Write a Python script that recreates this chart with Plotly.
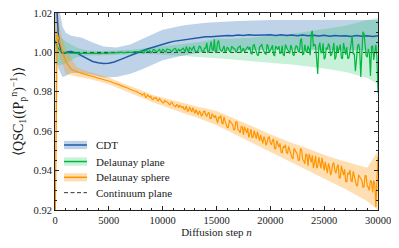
import plotly.graph_objects as go

# ---- data ----
n_noisy = [i * 200 for i in range(151)]          # 0 .. 30000
n_odd = [8100 + 200 * j for j in range(110)]     # extra samples in the noisy part

cdt_n = [0, 100, 200, 300, 400, 500, 600, 800, 1000, 1200, 1500, 1800, 2100, 2500,
         3000, 3500, 4000, 4500, 5000, 5500, 6000, 6500, 7000, 7500, 8000, 8500,
         9000, 9500, 10000, 10500, 11000, 11500, 12000, 12500, 13000, 13500, 14000,
         14500, 15000, 15500, 16000, 16500, 17000, 17500, 18000, 18500, 19000, 19500,
         20000, 20500, 21000, 21500, 22000, 22500, 23000, 23500, 24000, 24500, 25000,
         25500, 26000, 26500, 27000, 27500, 28000, 28500, 29000, 29500, 30000]
cdt_mean = [1.0400, 1.0270, 1.0170, 1.0095, 1.0045, 1.0015, 1.0000, 0.9994, 0.9998, 1.0003,
            1.0004, 1.0001, 0.9995, 0.9982, 0.9966, 0.9954, 0.9947, 0.9944, 0.9945, 0.9951,
            0.9962, 0.9974, 0.9985, 0.9996, 1.0006, 1.0016, 1.0025, 1.0034, 1.0043, 1.0049,
            1.0056, 1.0060, 1.0066, 1.0069, 1.0074, 1.0076, 1.0079, 1.0080,
            1.0083, 1.0084, 1.0086, 1.0085, 1.0088, 1.0086, 1.0089, 1.0087, 1.0089, 1.0088,
            1.0089, 1.0086, 1.0089, 1.0086, 1.0088, 1.0085, 1.0088, 1.0084, 1.0087, 1.0083,
            1.0087, 1.0082, 1.0086, 1.0083, 1.0085, 1.0081, 1.0086, 1.0082, 1.0085, 1.0081,
            1.0084]
cdt_band_n = [0, 300, 700, 1000, 1500, 2500, 3500, 4500, 5700, 7000, 8000, 9000,
              10000, 12000, 14000, 17000, 20000, 25000, 30000]
cdt_upper = [1.045, 1.025, 1.013, 1.010, 1.0085, 1.0075, 1.0050, 1.0030, 1.0025,
             1.0040, 1.0065, 1.0090, 1.0115, 1.0138, 1.0150, 1.0160, 1.0164, 1.0165, 1.0165]
cdt_lower = [1.000, 0.9920, 0.9875, 0.9880, 0.9895, 0.9895, 0.9885, 0.9872, 0.9875,
             0.9892, 0.9912, 0.9935, 0.9960, 0.9985, 1.0003, 1.0010, 1.0013, 1.0012, 1.0010]

plane_mean = [
    1.0060, 1.0030, 1.0013, 1.0005, 1.0000, 0.9997, 0.9996, 0.9995, 0.9996, 0.9995,
    0.9995, 0.9996, 0.9994, 0.9995, 0.9995, 0.9994, 0.9995, 0.9996, 0.9995, 0.9995,
    0.9996, 0.9994, 0.9997, 0.9996, 0.9994, 0.9998, 0.9999, 0.9997, 0.9997, 1.0000,
    0.9999, 1.0001, 0.9998, 1.0001, 1.0002, 1.0000, 1.0000, 1.0004, 1.0003, 1.0002,
    1.0004, 0.9997, 1.0012, 1.0004, 1.0010, 1.0000, 1.0015, 1.0005, 1.0010, 1.0002,
    1.0015, 1.0004, 1.0017, 1.0012, 1.0003, 1.0016, 1.0020, 1.0010, 1.0007, 1.0018,
    1.0013, 1.0030, 1.0000, 1.0021, 1.0027, 1.0008, 1.0002, 1.0032, 1.0018, 1.0006,
    1.0022, 1.0000, 1.0029, 1.0013, 1.0066, 1.0003, 1.0060, 1.0010, 1.0019, 1.0002,
    1.0027, 1.0005, 1.0029, 1.0019, 1.0000, 1.0024, 1.0032, 1.0011, 1.0003, 1.0026,
    1.0014, 0.9994, 1.0036, 1.0020, 0.9986, 1.0028, 1.0042, 1.0005, 0.9991, 1.0030,
    1.0009, 1.0037, 0.9984, 1.0020, 1.0032, 0.9998, 0.9987, 1.0040, 1.0015, 0.9995,
    1.0022, 0.9983, 1.0033, 1.0005, 1.0062, 0.9989, 1.0039, 0.9999, 1.0016, 1.0095,
    1.0030, 1.0033, 0.9890, 1.0050, 0.9999, 0.9966, 1.0024, 1.0045, 0.9982, 1.0010,
    0.9964, 1.0035, 1.0019, 0.9972, 1.0048, 0.9989, 0.9968, 1.0027, 1.0085, 0.9993,
    0.9963, 1.0043, 0.9875, 1.0105, 1.0047, 0.9976, 0.9996, 1.0030, 0.9962, 1.0038,
    0.9795]
plane_odd = [
    1.0009, 0.9999, 1.0013, 1.0004, 0.9999, 1.0012, 1.0010, 1.0003, 1.0017, 1.0005,
    1.0012, 1.0003, 1.0016, 1.0012, 1.0007, 1.0018, 1.0004, 1.0016, 1.0012, 1.0021,
    1.0003, 1.0019, 1.0026, 1.0010, 1.0032, 1.0005, 1.0014, 1.0029, 1.0002, 1.0022,
    1.0048, 1.0003, 1.0055, 1.0011, 1.0000, 1.0052, 1.0019, 1.0005, 1.0032, 1.0008,
    1.0021, 1.0002, 1.0027, 1.0018, 1.0006, 1.0029, 1.0000, 1.0022, 1.0013, 1.0030,
    1.0028, 0.9992, 1.0039, 1.0006, 0.9986, 1.0031, 1.0019, 0.9994, 1.0042, 0.9999,
    1.0020, 0.9987, 1.0032, 1.0015, 0.9995, 1.0034, 0.9984, 1.0023, 1.0006, 1.0037,
    0.9989, 1.0017, 1.0028, 1.0000, 1.0070, 0.9991, 1.0008, 1.0033, 0.9986, 1.0110,
    1.0042, 0.9966, 1.0025, 0.9999, 1.0046, 0.9974, 1.0016, 1.0033, 0.9991, 1.0049,
    0.9977, 1.0002, 1.0040, 0.9968, 1.0023, 1.0027, 0.9972, 1.0044, 0.9993, 0.9905,
    1.0030, 1.0013, 0.9976, 1.0095, 0.9984, 1.0018, 0.9880, 1.0034, 1.0009, 0.9979]

sphere_mean = [
    0.9000, 1.0095, 1.0060, 1.0015, 0.9985, 0.9955, 0.9935, 0.9921, 0.9912, 0.9906,
    0.9901, 0.9898, 0.9895, 0.9892, 0.9889, 0.9886, 0.9883, 0.9880, 0.9877, 0.9874,
    0.9871, 0.9868, 0.9864, 0.9861, 0.9858, 0.9855, 0.9851, 0.9846, 0.9843, 0.9838,
    0.9835, 0.9830, 0.9827, 0.9821, 0.9818, 0.9812, 0.9809, 0.9803, 0.9800, 0.9793,
    0.9790, 0.9789, 0.9773, 0.9785, 0.9772, 0.9762, 0.9770, 0.9770, 0.9755, 0.9757,
    0.9745, 0.9755, 0.9748, 0.9736, 0.9747, 0.9732, 0.9724, 0.9732, 0.9731, 0.9719,
    0.9710, 0.9728, 0.9703, 0.9710, 0.9719, 0.9690, 0.9694, 0.9703, 0.9676, 0.9700,
    0.9683, 0.9690, 0.9664, 0.9689, 0.9668, 0.9653, 0.9673, 0.9680, 0.9638, 0.9651,
    0.9618, 0.9656, 0.9641, 0.9608, 0.9648, 0.9608, 0.9591, 0.9621, 0.9623, 0.9591,
    0.9568, 0.9611, 0.9571, 0.9583, 0.9598, 0.9551, 0.9558, 0.9573, 0.9528, 0.9568,
    0.9541, 0.9553, 0.9511, 0.9553, 0.9518, 0.9493, 0.9523, 0.9531, 0.9488, 0.9501,
    0.9468, 0.9513, 0.9494, 0.9451, 0.9510, 0.9456, 0.9434, 0.9479, 0.9485, 0.9442,
    0.9413, 0.9475, 0.9421, 0.9441, 0.9465, 0.9401, 0.9414, 0.9437, 0.9377, 0.9435,
    0.9399, 0.9419, 0.9362, 0.9424, 0.9377, 0.9345, 0.9390, 0.9403, 0.9345, 0.9366,
    0.9323, 0.9378, 0.9359, 0.9316, 0.9375, 0.9321, 0.9299, 0.9343, 0.9350, 0.9215,
    0.9470]
sphere_odd = [
    0.9783, 0.9791, 0.9773, 0.9778, 0.9778, 0.9761, 0.9767, 0.9757, 0.9765, 0.9752,
    0.9744, 0.9752, 0.9745, 0.9735, 0.9745, 0.9730, 0.9735, 0.9719, 0.9726, 0.9726,
    0.9713, 0.9701, 0.9723, 0.9698, 0.9708, 0.9709, 0.9683, 0.9695, 0.9684, 0.9702,
    0.9677, 0.9695, 0.9665, 0.9678, 0.9681, 0.9641, 0.9666, 0.9641, 0.9673, 0.9638,
    0.9618, 0.9648, 0.9633, 0.9608, 0.9646, 0.9603, 0.9626, 0.9581, 0.9611, 0.9616,
    0.9586, 0.9566, 0.9603, 0.9561, 0.9578, 0.9581, 0.9538, 0.9558, 0.9541, 0.9571,
    0.9531, 0.9561, 0.9511, 0.9533, 0.9538, 0.9491, 0.9516, 0.9491, 0.9523, 0.9488,
    0.9459, 0.9504, 0.9485, 0.9453, 0.9508, 0.9451, 0.9485, 0.9424, 0.9469, 0.9478,
    0.9439, 0.9413, 0.9468, 0.9411, 0.9438, 0.9444, 0.9387, 0.9418, 0.9396, 0.9440,
    0.9387, 0.9431, 0.9364, 0.9398, 0.9407, 0.9343, 0.9381, 0.9348, 0.9396, 0.9350,
    0.9324, 0.9369, 0.9350, 0.9318, 0.9373, 0.9316, 0.9350, 0.9289, 0.9334, 0.9343]

plane_band_n = [0, 500] + [i * 1000 for i in range(1, 31)]
plane_lower = [0.9940, 0.9935, 0.9945, 0.9975, 0.9983, 0.9985, 0.9985, 0.9986, 0.9988, 0.9990,
               0.9990, 0.9988, 0.9985, 0.9982, 0.9978, 0.9975, 0.9970, 0.9966, 0.9962, 0.9958,
               0.9953, 0.9948, 0.9943, 0.9938, 0.9932, 0.9925, 0.9918, 0.9910, 0.9900, 0.9885,
               0.9870, 0.9840]
plane_upper = [1.0120, 1.0080, 1.0055, 1.0025, 1.0010, 1.0007, 1.0008, 1.0010, 1.0013, 1.0018,
               1.0024, 1.0030, 1.0037, 1.0043, 1.0050, 1.0058, 1.0070, 1.0068, 1.0070, 1.0075,
               1.0080, 1.0084, 1.0090, 1.0095, 1.0102, 1.0110, 1.0118, 1.0125, 1.0135, 1.0150,
               1.0165, 1.0175]
sphere_band_n = [0, 150, 400, 700] + [i * 1000 for i in range(1, 31)]
sphere_lower = [0.9000, 1.0000, 0.9985, 0.9935, 0.9890, 0.9878, 0.9868, 0.9853, 0.9838, 0.9815,
                0.9795, 0.9771, 0.9748, 0.9728, 0.9710, 0.9690, 0.9673, 0.9652, 0.9630, 0.9603,
                0.9575, 0.9548, 0.9522, 0.9495, 0.9468, 0.9440, 0.9412, 0.9385, 0.9358, 0.9332,
                0.9305, 0.9275, 0.9245, 0.9200]
sphere_upper = [1.0300, 1.0200, 1.0135, 1.0065, 1.0020, 0.9924, 0.9904, 0.9888, 0.9873, 0.9850,
                0.9830, 0.9808, 0.9785, 0.9770, 0.9755, 0.9742, 0.9728, 0.9715, 0.9702, 0.9680,
                0.9655, 0.9632, 0.9608, 0.9585, 0.9562, 0.9540, 0.9522, 0.9500, 0.9480, 0.9462,
                0.9445, 0.9430, 0.9415, 0.9500]

continuum_n = [0, 30000]
continuum = [1.0, 1.0]

x_ticks = [0, 5000, 10000, 15000, 20000, 25000, 30000]
y_ticks = [0.92, 0.94, 0.96, 0.98, 1.00, 1.02]

series = [
    ("CDT", "#1f5aa8", "rgba(70,130,190,0.35)"),
    ("Delaunay plane", "#00b83c", "rgba(0,190,80,0.22)"),
    ("Delaunay sphere", "#ff9500", "rgba(255,150,0,0.30)"),
]
dash_col = "#333333"
ink = "#222222"
font_name = "Liberation Serif"


def merged(xa, ya, xb, yb):
    pts = sorted(zip(xa + xb, ya + yb))
    return [p[0] for p in pts], [p[1] for p in pts]


plane_x, plane_y = merged(n_noisy, plane_mean, n_odd, plane_odd)
sphere_x, sphere_y = merged(n_noisy, sphere_mean, n_odd, sphere_odd)

fig = go.Figure()

# shaded error bands
bands = [(cdt_band_n, cdt_lower, cdt_upper), (plane_band_n, plane_lower, plane_upper),
         (sphere_band_n, sphere_lower, sphere_upper)]
for (bx, lo, hi), (name, col, fcol) in zip(bands, series):
    fig.add_trace(go.Scatter(x=bx, y=lo, mode="lines", line=dict(width=0, color=fcol),
                             showlegend=False, hoverinfo="skip"))
    fig.add_trace(go.Scatter(x=bx, y=hi, mode="lines", line=dict(width=0, color=fcol),
                             fill="tonexty", fillcolor=fcol, showlegend=False, hoverinfo="skip"))

# continuum reference
fig.add_trace(go.Scatter(x=continuum_n, y=continuum, mode="lines",
                         line=dict(color=dash_col, width=1, dash="4px,3px"), showlegend=False))

# mean lines
fig.add_trace(go.Scatter(x=cdt_n, y=cdt_mean, mode="lines",
                         line=dict(color=series[0][1], width=1.5), showlegend=False))
fig.add_trace(go.Scatter(x=plane_x, y=plane_y, mode="lines",
                         line=dict(color=series[1][1], width=1.2), showlegend=False))
fig.add_trace(go.Scatter(x=sphere_x, y=sphere_y, mode="lines",
                         line=dict(color=series[2][1], width=1.2), showlegend=False))

# legend, drawn by hand so the row spacing matches the reference
legend_rows = [0.330, 0.246, 0.166, 0.088]
sw_x0, sw_x1, txt_x = 0.028, 0.099, 0.120
for yr, (name, col, fcol) in zip(legend_rows, series):
    fig.add_shape(type="rect", xref="paper", yref="paper", x0=sw_x0, x1=sw_x1,
                  y0=yr - 0.021, y1=yr + 0.021, fillcolor=fcol, line=dict(width=0))
    fig.add_shape(type="line", xref="paper", yref="paper", x0=sw_x0, x1=sw_x1,
                  y0=yr, y1=yr, line=dict(color=col, width=1.5))
    fig.add_annotation(xref="paper", yref="paper", x=txt_x, y=yr, text=name,
                       showarrow=False, xanchor="left", yanchor="middle",
                       font=dict(family=font_name, size=11, color=ink))
fig.add_shape(type="line", xref="paper", yref="paper", x0=sw_x0, x1=sw_x1,
              y0=legend_rows[3], y1=legend_rows[3],
              line=dict(color=dash_col, width=1, dash="4px,2.5px"))
fig.add_annotation(xref="paper", yref="paper", x=txt_x, y=legend_rows[3],
                   text="Continuum plane", showarrow=False, xanchor="left", yanchor="middle",
                   font=dict(family=font_name, size=11, color=ink))

axis_common = dict(
    showline=True, linecolor=ink, linewidth=1, mirror="allticks",
    ticks="inside", ticklen=4, tickcolor=ink, showgrid=False, zeroline=False,
    automargin=False, ticklabeloverflow="allow",
    tickfont=dict(family=font_name, size=10.5, color=ink),
)
fig.update_xaxes(range=[0, 30000], tickvals=x_ticks, ticktext=[str(v) for v in x_ticks],
                 minor=dict(dtick=1000, ticks="inside", ticklen=2, tickcolor=ink),
                 title=dict(text="Diffusion step <i>n</i>", standoff=2,
                            font=dict(family=font_name, size=11, color=ink)),
                 **axis_common)
fig.update_yaxes(range=[0.92, 1.02], tickvals=y_ticks, ticktext=[f"{v:.2f}" for v in y_ticks],
                 minor=dict(dtick=0.005, ticks="inside", ticklen=2, tickcolor=ink),
                 title=dict(text="⟨QSC<sub>1</sub>((P<sub>p</sub><sup>n</sup>)<sup>−1</sup>)⟩",
                            standoff=6,
                            font=dict(family=font_name, size=14, color=ink)),
                 **axis_common)

# the page body adds an 8px offset, so margins are trimmed on the left/top
fig.update_layout(
    width=399, height=248,
    margin=dict(l=47, r=29, t=5, b=46),
    paper_bgcolor="white", plot_bgcolor="white",
    font=dict(family=font_name, size=11, color=ink),
    showlegend=False,
)

fig.write_html("out.html")
